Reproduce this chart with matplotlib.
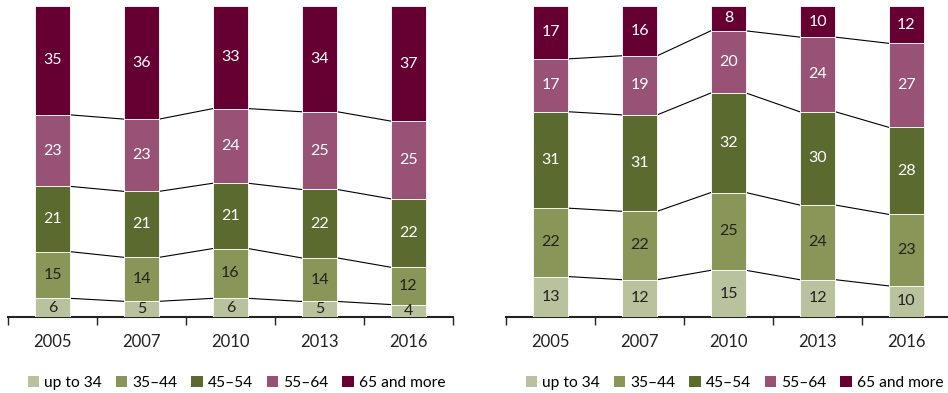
import matplotlib
matplotlib.use("Agg")
import matplotlib.pyplot as plt
import numpy as np
from matplotlib.patches import Patch

years = ["2005", "2007", "2010", "2013", "2016"]
groups = ["up to 34", "35\u201344", "45\u201354", "55\u201364", "65 and more"]
colors = ["#b8c29c", "#8a9658", "#5b6b30", "#985275", "#660033"]
label_colors = ["#222222", "#222222", "white", "white", "white"]

left_up34 = [6, 5, 6, 5, 4]
left_35_44 = [15, 14, 16, 14, 12]
left_45_54 = [21, 21, 21, 22, 22]
left_55_64 = [23, 23, 24, 25, 25]
left_65plus = [35, 36, 33, 34, 37]

right_up34 = [13, 12, 15, 12, 10]
right_35_44 = [22, 22, 25, 24, 23]
right_45_54 = [31, 31, 32, 30, 28]
right_55_64 = [17, 19, 20, 24, 27]
right_65plus = [17, 16, 8, 10, 12]

plt.rcParams['font.family'] = ['Lato', 'DejaVu Sans']

fig = plt.figure(figsize=(9.48, 3.93), dpi=100)
W, H = 948, 393

def make_ax(x0, x1):
    return fig.add_axes([x0 / W, (H - 317) / H, (x1 - x0) / W, (317 - 6) / H])

def draw(ax, series):
    data = np.array(series, dtype=float)
    totals = data.sum(axis=0)
    data = data / totals * 100
    x = np.arange(len(years))
    bw = 0.4
    bottom = np.zeros(len(years))
    for i, (vals, raw) in enumerate(zip(data, series)):
        ax.bar(x, vals, bw, bottom=bottom, color=colors[i], edgecolor="white",
               linewidth=0.6, zorder=3)
        for xi, b, v, r in zip(x, bottom, vals, raw):
            ax.text(xi, b + v / 2, str(r), ha="center", va="center",
                    color=label_colors[i], fontsize=11.5, zorder=4)
        top = bottom + vals
        if i < len(series) - 1:
            for j in range(len(years) - 1):
                ax.plot([x[j] + bw / 2, x[j + 1] - bw / 2], [top[j], top[j + 1]],
                        color="black", linewidth=0.8, zorder=2)
        bottom = top
    ax.set_xlim(-0.5, len(years) - 0.5)
    ax.set_ylim(0, 100)
    ax.set_yticks([])
    for s in ["top", "right", "left"]:
        ax.spines[s].set_visible(False)
    ax.spines["bottom"].set_linewidth(1.5)
    ax.spines["bottom"].set_color("#222222")
    ax.set_xticks(np.arange(-0.5, len(years), 1.0))
    ax.set_xticklabels([])
    ax.set_xticks(x, minor=True)
    ax.set_xticklabels(years, minor=True, fontsize=12, color="#222222")
    ax.tick_params(axis="x", which="major", length=6, width=1, color="#222222", direction="out")
    ax.tick_params(axis="x", which="minor", length=0, pad=12)
    handles = [Patch(facecolor=c, edgecolor="none") for c in colors]
    ax.legend(handles, groups, loc="upper center", bbox_to_anchor=(0.513, -0.17),
              ncol=5, frameon=False, fontsize=11.2, handlelength=0.75, handleheight=0.75,
              handletextpad=0.3, columnspacing=0.9, borderaxespad=0)

axL = make_ax(8, 453)
draw(axL, [left_up34, left_35_44, left_45_54, left_55_64, left_65plus])
axR = make_ax(506, 951)
draw(axR, [right_up34, right_35_44, right_45_54, right_55_64, right_65plus])

fig.savefig("out.png", dpi=100)
